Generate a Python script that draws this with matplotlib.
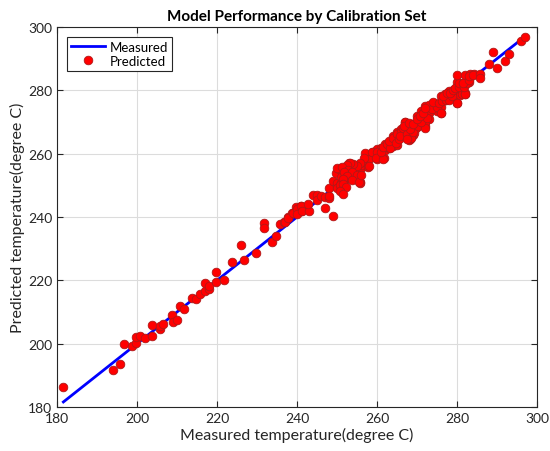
import matplotlib
matplotlib.use("Agg")
import matplotlib.pyplot as plt

plt.rcParams['font.family'] = ['Lato', 'DejaVu Sans']

measured = [
    181.6, 193.9, 195.8, 196.7, 198.8, 199.8, 199.7, 200.8, 201.9, 203.7, 203.7, 205.7, 205.8, 206.6,
    208.7, 208.9, 209.9, 210.8, 211.8, 213.7, 214.7, 215.8, 216.9, 216.9, 217.9, 217.9, 219.8, 219.8,
    221.8, 223.8, 225.9, 226.8, 229.7, 231.7, 231.7, 233.8, 234.8, 235.8, 236.7, 237.8, 238.8, 239.8,
    240.9, 239.8, 241.0, 236.9, 237.7, 238.9, 239.9, 239.9, 241.0, 241.3, 242.9, 242.8, 244.1, 245.1,
    245.1, 246.9, 246.1, 246.9, 248.0, 248.0, 248.9, 248.9, 249.9, 250.8, 249.8, 250.5, 251.0, 252.3,
    252.4, 255.7, 247.9, 250.0, 250.0, 250.9, 250.9, 251.9, 251.9, 252.4, 252.9, 253.4, 253.4, 253.9,
    254.4, 254.9, 254.9, 255.7, 255.9, 256.2, 257.0, 257.0, 257.8, 258.0, 258.9, 259.9, 259.9, 260.9,
    260.9, 261.7, 261.9, 261.9, 262.9, 262.9, 263.9, 263.9, 263.9, 264.9, 264.9, 264.9, 265.9, 265.9,
    266.9, 266.9, 266.9, 267.9, 267.9, 268.9, 268.9, 269.9, 269.9, 270.9, 270.9, 271.9, 271.9, 271.9,
    273.0, 273.0, 274.0, 274.0, 275.0, 275.0, 275.9, 275.9, 275.9, 276.9, 276.9, 277.9, 277.9, 278.9,
    278.9, 279.9, 279.9, 280.7, 282.1, 256.7, 258.0, 255.7, 254.9, 254.1, 253.2, 252.4, 251.3, 252.8,
    251.8, 253.7, 254.9, 252.4, 251.4, 253.7, 255.5, 255.9, 250.8, 251.6, 252.3, 250.8, 251.4, 258.8,
    259.9, 259.8, 261.6, 261.1, 261.6, 262.4, 263.2, 263.0, 264.0, 264.8, 264.9, 265.9, 265.5, 266.6,
    267.1, 267.9, 268.4, 269.2, 268.3, 269.7, 266.9, 265.8, 267.4, 268.4, 267.4, 269.1, 268.3, 266.8,
    268.1, 270.2, 269.1, 271.9, 271.9, 270.9, 269.9, 272.5, 270.7, 271.5, 273.0, 273.8, 271.9, 275.0,
    276.1, 274.1, 275.6, 276.3, 277.2, 278.1, 278.7, 276.6, 277.4, 278.2, 278.9, 279.9, 281.3, 281.9,
    279.6, 280.5, 280.4, 281.6, 282.9, 279.9, 282.1, 283.3, 284.3, 282.0, 281.8, 282.6, 281.6, 283.1,
    283.1, 284.1, 285.7, 285.7, 287.9, 288.9, 290.0, 292.1, 293.1, 295.9, 297.1,
]
predicted = [
    186.2, 191.8, 193.6, 199.8, 199.2, 200.1, 202.2, 202.4, 201.9, 202.3, 206.0, 204.6, 205.5, 206.1,
    209.0, 206.8, 207.5, 211.9, 210.9, 214.4, 214.0, 215.7, 216.5, 219.3, 217.3, 218.2, 219.5, 222.6,
    220.1, 225.7, 231.1, 226.3, 228.6, 238.0, 236.5, 232.1, 233.9, 237.7, 238.3, 239.9, 241.4, 243.2,
    243.5, 241.4, 241.8, 238.3, 239.6, 241.3, 242.5, 240.8, 243.4, 241.9, 241.9, 244.2, 246.9, 247.1,
    245.3, 242.8, 246.5, 246.3, 246.1, 249.3, 240.3, 251.4, 250.6, 249.0, 253.9, 255.2, 252.6, 252.0,
    254.1, 251.0, 246.5, 255.4, 249.3, 250.7, 248.8, 252.2, 253.9, 255.4, 257.0, 253.0, 254.5, 256.4,
    253.9, 256.0, 252.8, 250.7, 255.4, 256.4, 257.7, 260.2, 255.8, 258.3, 260.6, 258.3, 261.5, 259.9,
    261.9, 258.5, 263.0, 261.1, 263.4, 261.9, 265.5, 264.0, 262.3, 266.7, 264.2, 262.7, 267.8, 265.9,
    269.9, 267.8, 265.7, 267.4, 264.4, 268.6, 265.9, 272.0, 268.8, 270.7, 273.5, 275.1, 273.0, 268.8,
    272.8, 270.9, 276.0, 274.1, 275.6, 273.5, 278.1, 274.7, 273.0, 279.0, 276.8, 279.8, 277.5, 279.4,
    277.7, 276.0, 282.5, 278.5, 279.2, 258.5, 256.0, 257.0, 256.2, 256.6, 257.0, 256.4, 255.8, 254.9,
    254.1, 254.1, 253.3, 252.8, 252.0, 251.6, 251.0, 253.2, 250.0, 250.4, 249.4, 248.2, 247.2, 260.6,
    260.4, 258.5, 258.3, 260.4, 262.1, 263.0, 261.7, 264.0, 265.1, 263.4, 266.3, 266.9, 264.6, 268.2,
    265.7, 267.4, 269.3, 266.5, 264.5, 268.0, 270.1, 265.7, 266.1, 265.1, 264.5, 266.7, 267.8, 268.6,
    269.7, 268.6, 269.5, 269.9, 268.0, 270.1, 270.9, 271.2, 272.0, 273.0, 275.4, 274.0, 274.5, 274.7,
    273.0, 276.2, 276.0, 276.6, 277.1, 277.1, 278.3, 278.3, 279.2, 279.2, 280.1, 276.0, 279.0, 279.0,
    280.6, 281.2, 282.3, 282.3, 282.5, 284.7, 284.7, 285.1, 285.3, 279.0, 281.2, 282.3, 282.3, 283.2,
    284.4, 285.0, 285.2, 283.8, 288.2, 292.0, 287.0, 289.3, 291.4, 295.6, 296.8,
]

xticks = [180, 200, 220, 240, 260, 280, 300]
yticks = [180, 200, 220, 240, 260, 280, 300]

fig = plt.figure(figsize=(5.5, 4.52), dpi=100)
ax = fig.add_axes([0.1036, 0.0973, 0.8727, 0.8407])

x_line = [min(measured), max(measured)]
ax.plot(x_line, x_line, color='#0000ff', lw=2.0, label='Measured', zorder=2)
ax.plot(measured, predicted, 'o', ms=6.2, mfc='#ff0000', mec='#b01818', mew=0.6,
        label='Predicted', zorder=3)

ax.set_xlim(180, 300)
ax.set_ylim(180, 300)
ax.set_xticks(xticks)
ax.set_yticks(yticks)
ax.grid(True, color='#dcdcdc', lw=0.8)
ax.set_axisbelow(True)
ax.tick_params(direction='in', top=True, right=True, length=4, labelsize=10,
               colors='#262626', width=0.8)
for s in ax.spines.values():
    s.set_color('#262626')
    s.set_linewidth(0.8)

ax.set_xlabel('Measured temperature(degree C)', fontsize=11.5, color='#262626', labelpad=2)
ax.set_ylabel('Predicted temperature(degree C)', fontsize=11.5, color='#262626', labelpad=2)
ax.set_title('Model Performance by Calibration Set', fontsize=11, fontweight='bold', pad=5)

leg = ax.legend(loc='upper left', bbox_to_anchor=(0.021, 0.974), fancybox=False,
                edgecolor='#262626', framealpha=1, fontsize=9.5, borderpad=0.3,
                handlelength=2.6, labelspacing=0.15, handletextpad=0.3, borderaxespad=0)
leg.get_frame().set_linewidth(0.8)

fig.savefig('out.png', dpi=100)
